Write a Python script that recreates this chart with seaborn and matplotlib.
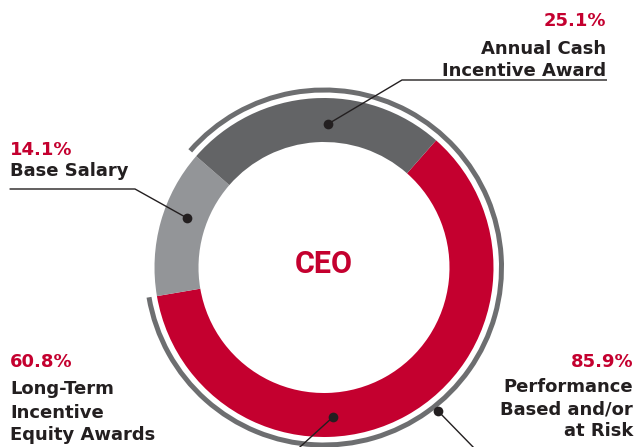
import matplotlib
matplotlib.use("Agg")
import matplotlib.pyplot as plt
import seaborn as sns

# ---- data ----
segments = ["Long-Term Incentive Equity Awards", "Base Salary", "Annual Cash Incentive Award"]
shares = [60.8, 14.1, 25.1]
at_risk = [25.1 + 60.8, 14.1]          # performance based / at risk vs. fixed
pct_labels = ["60.8%", "14.1%", "25.1%", "85.9%"]
center_label = "CEO"

RED = "#c4002f"
DARK = "#636466"
LIGHT = "#939598"
ARC = "#6d6e70"
INK = "#231f20"

sns.set_theme(style="white")
plt.rcParams["font.family"] = ["DejaVu Sans"]

W, H = 636, 447
fig = plt.figure(figsize=(W / 100, H / 100), dpi=100)
ax = fig.add_axes([0, 0, 1, 1])

def Y(y):
    return H - y

cx, cy = 324, Y(267.5)
R_out, R_in = 169.5, 125.5

# main donut (clockwise, red starting at upper right)
ax.pie(shares, colors=[RED, LIGHT, DARK], startangle=48.6, counterclock=False,
       radius=R_out, center=(cx, cy),
       wedgeprops=dict(width=R_out - R_in, edgecolor="none", linewidth=0))

# outer thin arc covering performance-based share
ax.pie(at_risk, colors=[ARC, "none"], startangle=90 - 311.1, counterclock=False,
       radius=180, center=(cx, cy),
       wedgeprops=dict(width=5, edgecolor="none", linewidth=0))

ax.set_xlim(0, W)
ax.set_ylim(0, H)
ax.set_aspect("equal")
ax.axis("off")

# leader lines and dots
lw = 1.0
ax.plot([328, 402, 607], [Y(124), Y(80), Y(80)], color=INK, lw=lw, solid_capstyle="butt")
ax.plot([187, 135, 10], [Y(218), Y(189), Y(189)], color=INK, lw=lw)
ax.plot([333, 290], [Y(417), Y(456)], color=INK, lw=lw)
ax.plot([438, 476], [Y(411), Y(450)], color=INK, lw=lw)
for (x, y) in [(328, 124), (187, 218), (333, 417), (438, 411)]:
    ax.plot([x], [Y(y)], "o", color=INK, ms=7.0, mec="none")

fs = 13
def line(x, y, s, ha, color=INK):
    ax.text(x, Y(y), s, ha=ha, va="baseline", fontsize=fs, fontweight="bold", color=color)

# top right
line(606, 26, pct_labels[2], "right", RED)
line(606, 53.5, "Annual Cash", "right")
line(606, 75.5, "Incentive Award", "right")
# left middle
line(10, 155, pct_labels[1], "left", RED)
line(10, 176.5, "Base Salary", "left")
# bottom left
line(10, 367, pct_labels[0], "left", RED)
line(10, 393.5, "Long-Term", "left")
line(10, 418, "Incentive", "left")
line(10, 440, "Equity Awards", "left")
# bottom right
line(633, 367, pct_labels[3], "right", RED)
line(633, 392, "Performance", "right")
line(633, 414, "Based and/or", "right")
line(633, 436, "at Risk", "right")

ax.text(cx, Y(264), center_label, ha="center", va="center", fontsize=22,
        fontweight="bold", color=RED, family=["Roboto", "DejaVu Sans"])

fig.savefig("out.png", dpi=100)
